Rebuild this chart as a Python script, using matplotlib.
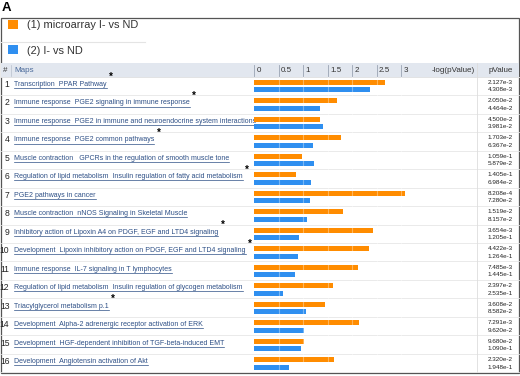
import numpy as np
import matplotlib
matplotlib.use("Agg")
import matplotlib.pyplot as plt
from matplotlib import font_manager
from matplotlib.transforms import blended_transform_factory
from matplotlib.patches import Rectangle

# ---------------- data ----------------
maps = [
    "Transcription  PPAR Pathway",
    "Immune response  PGE2 signaling in immune response",
    "Immune response  PGE2 in immune and neuroendocrine system interactions",
    "Immune response  PGE2 common pathways",
    "Muscle contraction   GPCRs in the regulation of smooth muscle tone",
    "Regulation of lipid metabolism  Insulin regulation of fatty acid metabolism",
    "PGE2 pathways in cancer",
    "Muscle contraction  nNOS Signaling in Skeletal Muscle",
    "Inhibitory action of Lipoxin A4 on PDGF, EGF and LTD4 signaling",
    "Development  Lipoxin inhibitory action on PDGF, EGF and LTD4 signaling",
    "Immune response  IL-7 signaling in T lymphocytes",
    "Regulation of lipid metabolism  Insulin regulation of glycogen metabolism",
    "Triacylglycerol metabolism p.1",
    "Development  Alpha-2 adrenergic receptor activation of ERK",
    "Development  HGF-dependent inhibition of TGF-beta-induced EMT",
    "Development  Angiotensin activation of Akt",
]
pval_1 = [2.127e-3, 2.050e-2, 4.500e-2, 1.703e-2, 1.059e-1, 1.405e-1, 8.208e-4, 1.519e-2,
          3.654e-3, 4.422e-3, 7.485e-3, 2.397e-2, 3.608e-2, 7.291e-3, 9.680e-2, 2.320e-2]
pval_2 = [4.308e-3, 4.464e-2, 3.981e-2, 6.367e-2, 5.879e-2, 6.984e-2, 7.280e-2, 8.157e-2,
          1.205e-1, 1.264e-1, 1.445e-1, 2.535e-1, 8.582e-2, 9.620e-2, 1.090e-1, 1.948e-1]
pval_1_txt = ["2.127e-3", "2.050e-2", "4.500e-2", "1.703e-2", "1.059e-1", "1.405e-1", "8.208e-4", "1.519e-2",
              "3.654e-3", "4.422e-3", "7.485e-3", "2.397e-2", "3.608e-2", "7.291e-3", "9.680e-2", "2.320e-2"]
pval_2_txt = ["4.308e-3", "4.464e-2", "3.981e-2", "6.367e-2", "5.879e-2", "6.984e-2", "7.280e-2", "8.157e-2",
              "1.205e-1", "1.264e-1", "1.445e-1", "2.535e-1", "8.582e-2", "9.620e-2", "1.090e-1", "1.948e-1"]
starred = [1, 1, 0, 1, 0, 1, 0, 0, 1, 1, 0, 0, 1, 0, 0, 0]
tick_vals = [0, 0.5, 1, 1.5, 2, 2.5, 3]
tick_labels = ["0", "0.5", "1", "1.5", "2", "2.5", "3"]
series_names = ["(1) microarray I- vs ND", "(2) I- vs ND"]

neglog_1 = -np.log10(np.array(pval_1))
neglog_2 = -np.log10(np.array(pval_2))

ORANGE = "#ff8c00"
BLUE = "#2f8ff0"
LINKC = "#2d4f86"


def has_font(name):
    try:
        font_manager.findfont(name, fallback_to_default=False)
        return True
    except Exception:
        return False


narrow = "Liberation Sans Narrow" if has_font("Liberation Sans Narrow") else "Liberation Sans"
base = "Liberation Sans"

W, H = 520, 376
fig = plt.figure(figsize=(W / 100, H / 100), dpi=100)
cv = fig.add_axes([0, 0, 1, 1])
cv.set_xlim(0, W)
cv.set_ylim(H, 0)
cv.axis("off")
cv.set_zorder(0)

renderer = fig.canvas.get_renderer()

# layout constants (pixels)
top_rows, bot_rows = 76.7, 372.3
nrows = len(maps)
rh = (bot_rows - top_rows) / nrows
x0_bar, x_end_bar = 254, 477
px_per_unit = 49.0

# label A
cv.text(2, 8, "A", fontsize=9.5, fontweight="bold", family=base, va="center", ha="left")

# outer frame
cv.add_patch(Rectangle((0.5, 18), 518.5, 355, fill=False, ec="#555555", lw=0.9))

# legend
cv.add_patch(Rectangle((8, 20), 10, 9, color=ORANGE, lw=0))
cv.add_patch(Rectangle((8, 45), 10, 9, color=BLUE, lw=0))
cv.text(27, 25.5, series_names[0], fontsize=7.9, family=base, color="#333333", va="center")
cv.text(27, 51, series_names[1], fontsize=7.9, family=base, color="#333333", va="center")
cv.plot([1, 145], [41.5, 41.5], color="#e4e4e4", lw=0.8)

# header
cv.add_patch(Rectangle((1, 63.3), 517.5, top_rows - 63.3, color="#e2e7ef", lw=0))
cv.plot([1, 518.5], [top_rows, top_rows], color="#c9ced8", lw=0.6)
cv.text(3, 70, "#", fontsize=5.8, family=base, color="#333333", va="center")
cv.plot([11, 11], [64.5, 75.5], color="#b8bfcc", lw=0.5)
cv.text(14, 70, "Maps", fontsize=5.8, family=base, color="#4a6a9a", va="center")
cv.text(453, 70, "-log(pValue)", fontsize=5.8, family=base, color="#333333", va="center", ha="center")
cv.text(513, 70, "pValue", fontsize=5.8, family=base, color="#333333", va="center", ha="right")

# row separators and column divider
for i in range(nrows + 1):
    y = top_rows + i * rh
    cv.plot([1, 518.5], [y, y], color="#e6e6e6", lw=0.6)
cv.plot([x_end_bar, x_end_bar], [63.3, bot_rows], color="#dddddd", lw=0.6)

# bar axes
ax = fig.add_axes([x0_bar / W, (H - bot_rows) / H, (x_end_bar - x0_bar) / W, (bot_rows - top_rows) / H])
ax.set_zorder(1)
ax.patch.set_alpha(0)
ax.set_xlim(0, (x_end_bar - x0_bar) / px_per_unit)
ax.set_ylim(nrows, 0)
ax.axis("off")
idx = np.arange(nrows)
off1, off2, bh = 5.8 / rh, 13.2 / rh, 5.0 / rh
ax.barh(idx + off1, neglog_1, height=bh, color=ORANGE, lw=0, zorder=2)
ax.barh(idx + off2, neglog_2, height=bh, color=BLUE, lw=0, zorder=2)
for v in tick_vals[1:]:
    ax.axvline(v, color="white", alpha=0.35, lw=0.8, zorder=3)

# header ticks (x in data units of bar axes, y in canvas pixels)
tr = blended_transform_factory(ax.transData, cv.transData)
for v, lab in zip(tick_vals, tick_labels):
    cv.plot([v, v], [64.5, 75.5], color="#9aa3b3", lw=0.6, transform=tr)
    cv.text(v + 2.5 / px_per_unit, 70, lab, fontsize=5.8, family=base, color="#333333",
            va="center", ha="left", transform=tr)

# fit label font size so the longest label spans ~238 px
probe = cv.text(0, 0, maps[2], fontsize=10, family=narrow)
wprobe = probe.get_window_extent(renderer).width
probe.remove()
lab_fs = 10 * 238 / wprobe

inv = cv.transData.inverted()
for i, name in enumerate(maps):
    ytop = top_rows + i * rh
    yc = ytop + 7.8
    cv.text(9.5, yc, str(i + 1), fontsize=6.2, family=base, color="#222222", va="center", ha="right")
    t = cv.text(14, yc, name, fontsize=lab_fs, family=narrow, color=LINKC, va="center", ha="left")
    bb = t.get_window_extent(renderer)
    (xa, _), (xb, _) = inv.transform([[bb.x0, bb.y0], [bb.x1, bb.y1]])
    cv.plot([xa, xb], [yc + 3.6, yc + 3.6], color=LINKC, lw=0.5)
    if starred[i]:
        cv.text(xb + 2.5, ytop + 0.5, "*", fontsize=7, fontweight="bold", family=base,
                color="black", va="center", ha="left")
    cv.text(513, ytop + off1 * rh, pval_1_txt[i], fontsize=4.6, family=narrow, color="#222222",
            va="center", ha="right")
    cv.text(513, ytop + off2 * rh, pval_2_txt[i], fontsize=4.6, family=narrow, color="#222222",
            va="center", ha="right")

fig.savefig("out.png", dpi=100)
